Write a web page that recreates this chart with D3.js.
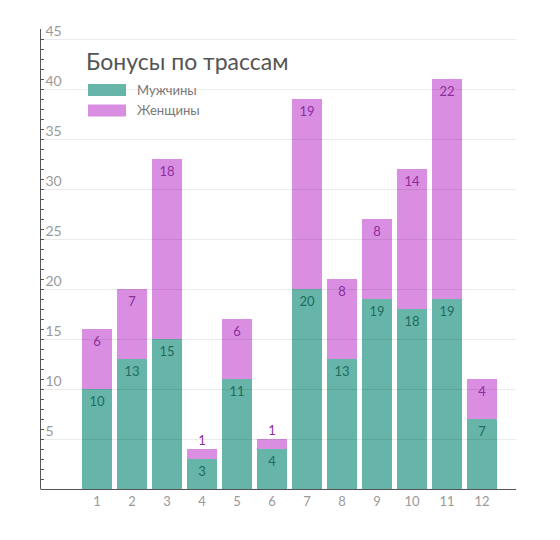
<!DOCTYPE html>
<html>
<head>
<meta charset="utf-8">
<script src="https://cdn.jsdelivr.net/npm/d3@7"></script>
<style>
  body { margin: 0; background: #fff; }
  text { font-family: Lato, "Open Sans", sans-serif; }
</style>
</head>
<body>
<div id="chart"></div>
<script>
const tracks = ["1", "2", "3", "4", "5", "6", "7", "8", "9", "10", "11", "12"];
const men = [10, 13, 15, 3, 11, 4, 20, 13, 19, 18, 19, 7];
const women = [6, 7, 18, 1, 6, 1, 19, 8, 8, 14, 22, 4];
const seriesNames = ["Мужчины", "Женщины"];
const yTicks = [5, 10, 15, 20, 25, 30, 35, 40, 45];
const title = "Бонусы по трассам";

const width = 560, height = 540;
const axisLeft = 40.5, axisRight = 516, axisBottom = 489, axisTop = 29;

const fills = ["#66b5a8", "#d98ee1"];
const labelColors = ["#1e6b5f", "#8c2d9e"];

const svg = d3.select("#chart")
    .append("svg")
    .attr("width", width)
    .attr("height", height);

const x = d3.scaleBand()
    .domain(tracks)
    .range([79.5, 499.5])
    .paddingInner(5 / 35)
    .paddingOuter(5 / 70);

const y = d3.scaleLinear()
    .domain([0, 46])
    .range([axisBottom, axisTop]);

const rows = tracks.map((t, i) => ({ track: t, men: men[i], women: women[i] }));
const stacked = d3.stack().keys(["men", "women"])(rows);

// bars
stacked.forEach((layer, k) => {
    svg.append("g")
        .selectAll("rect")
        .data(layer)
        .join("rect")
        .attr("x", d => x(d.data.track))
        .attr("width", x.bandwidth())
        .attr("y", d => y(d[1]))
        .attr("height", d => y(d[0]) - y(d[1]))
        .attr("fill", fills[k]);
});

// grid lines, drawn over the bars and faint
svg.append("g")
    .selectAll("line")
    .data(yTicks)
    .join("line")
    .attr("x1", axisLeft)
    .attr("x2", axisRight)
    .attr("y1", d => Math.round(y(d)) + 0.5)
    .attr("y2", d => Math.round(y(d)) + 0.5)
    .attr("stroke", "rgba(0,0,0,0.08)");

// value labels
stacked.forEach((layer, k) => {
    svg.append("g")
        .selectAll("text")
        .data(layer)
        .join("text")
        .attr("x", d => x(d.data.track) + x.bandwidth() / 2)
        .attr("y", d => {
            const h = y(d[0]) - y(d[1]);
            return h < 20 ? y(d[1]) - 4 : y(d[1]) + 17;
        })
        .attr("text-anchor", "middle")
        .attr("font-size", 13)
        .attr("fill", labelColors[k])
        .text(d => d[1] - d[0]);
});

// y axis: line with a small tick every unit, labels above the grid lines
const yAxis = svg.append("g");
yAxis.append("line")
    .attr("x1", axisLeft).attr("x2", axisLeft)
    .attr("y1", axisTop).attr("y2", axisBottom)
    .attr("stroke", "#555");
yAxis.selectAll(".minor")
    .data(d3.range(1, 46))
    .join("line")
    .attr("x1", axisLeft)
    .attr("x2", axisLeft + 3.5)
    .attr("y1", d => Math.round(y(d)) + 0.5)
    .attr("y2", d => Math.round(y(d)) + 0.5)
    .attr("stroke", "#555");
yAxis.selectAll("text")
    .data(yTicks)
    .join("text")
    .attr("x", axisLeft + 5)
    .attr("y", d => y(d) - 3)
    .attr("font-size", 14)
    .attr("fill", "#9a9a9a")
    .text(d => d);

// x axis
svg.append("line")
    .attr("x1", axisLeft)
    .attr("x2", axisRight)
    .attr("y1", axisBottom + 0.5)
    .attr("y2", axisBottom + 0.5)
    .attr("stroke", "#555");
svg.append("g")
    .selectAll("text")
    .data(tracks)
    .join("text")
    .attr("x", d => x(d) + x.bandwidth() / 2)
    .attr("y", axisBottom + 17)
    .attr("text-anchor", "middle")
    .attr("font-size", 13)
    .attr("fill", "#999")
    .text(d => d);

// title and legend
svg.append("text")
    .attr("x", 86)
    .attr("y", 70)
    .attr("font-size", 23)
    .attr("fill", "#555")
    .text(title);

const legend = svg.append("g")
    .selectAll("g")
    .data(seriesNames)
    .join("g")
    .attr("transform", (d, i) => `translate(88,${84 + i * 20.5})`);
legend.append("rect")
    .attr("width", 38)
    .attr("height", 12)
    .attr("fill", (d, i) => fills[i]);
legend.append("text")
    .attr("x", 49)
    .attr("y", 10.5)
    .attr("font-size", 13)
    .attr("fill", "#777")
    .text(d => d);
</script>
</body>
</html>
